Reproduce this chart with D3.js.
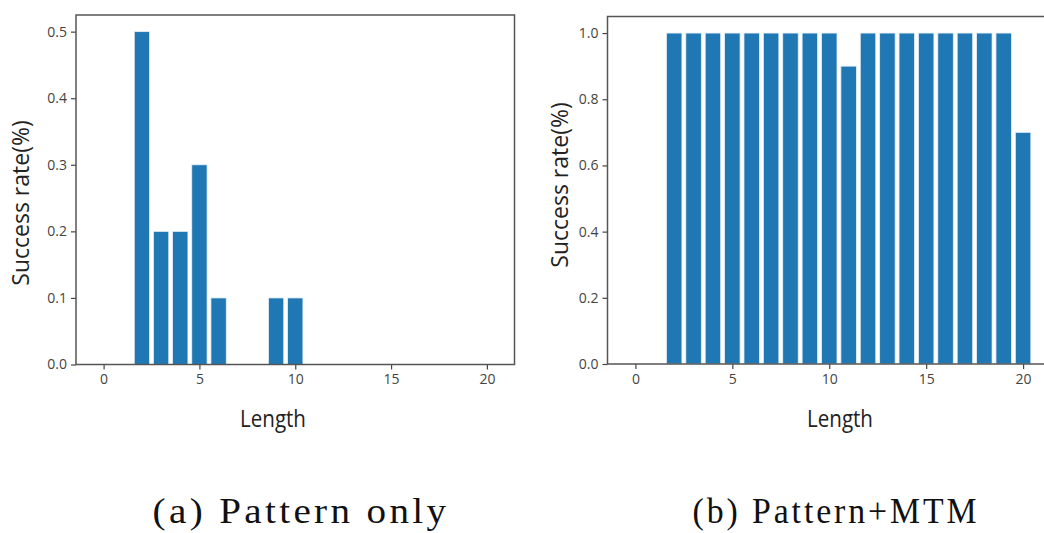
<!DOCTYPE html>
<html>
<head>
<meta charset="utf-8">
<script src="https://cdn.jsdelivr.net/npm/d3@7"></script>
<style>
  body { margin: 0; background: #fff; overflow: hidden; }
  svg { display: block; }
</style>
</head>
<body>
<svg id="chart" width="1044" height="533"></svg>
<script>
// lengths on the x axis
var lengths = [0, 1, 2, 3, 4, 5, 6, 7, 8, 9, 10, 11, 12, 13, 14, 15, 16, 17, 18, 19, 20];

// (a) pattern only
var rateA = [0, 0, 0.5, 0.2, 0.2, 0.3, 0.1, 0, 0, 0.1, 0.1, 0, 0, 0, 0, 0, 0, 0, 0, 0, 0];
// (b) pattern + MTM
var rateB = [0, 0, 1, 1, 1, 1, 1, 1, 1, 1, 1, 0.9, 1, 1, 1, 1, 1, 1, 1, 1, 0.7];

var xTicks = [0, 5, 10, 15, 20];
var yTicksA = [0, 0.1, 0.2, 0.3, 0.4, 0.5];
var yTicksB = [0, 0.2, 0.4, 0.6, 0.8, 1.0];

var captions = ["(a) Pattern only", "(b) Pattern+MTM"];

var svg = d3.select("#chart");

// squeeze a text horizontally so it fits a given width (the source image is squashed)
function squeeze(sel, cx, cy, w) {
  var len = sel.node().getComputedTextLength();
  sel.attr("x", 0).attr("y", 0)
    .attr("transform", "translate(" + cx + "," + cy + ") scale(" + (w / len) + ",1)");
}

function drawPanel(box, values, yTicks, yMax, caption) {
  var x = d3.scaleLinear().domain([-1.44, 21.44]).range([box.left, box.right]);
  var y = d3.scaleLinear().domain([0, yMax]).range([box.bottom, box.top]);
  var g = svg.append("g");

  // bars, width 0.8 like matplotlib
  g.selectAll("rect.bar")
    .data(lengths)
    .enter().append("rect")
    .attr("class", "bar")
    .attr("x", function(d) { return x(d - 0.4); })
    .attr("width", function(d) { return x(d + 0.4) - x(d - 0.4); })
    .attr("y", function(d, i) { return y(values[i]); })
    .attr("height", function(d, i) { return y(0) - y(values[i]); })
    .style("fill", "#1f77b4")
    .style("stroke", "#e8f0f8")
    .style("stroke-width", 0.8);

  var xAxis = g.append("g")
    .attr("transform", "translate(0," + box.bottom + ")")
    .call(d3.axisBottom(x).tickValues(xTicks).tickSize(5).tickPadding(5).tickFormat(d3.format("d")));
  var yAxis = g.append("g")
    .attr("transform", "translate(" + box.left + ",0)")
    .call(d3.axisLeft(y).tickValues(yTicks).tickSize(5).tickPadding(4).tickFormat(d3.format(".1f")));

  [xAxis, yAxis].forEach(function(a) {
    a.select(".domain").remove();
    a.selectAll(".tick line").style("stroke", "#444").style("stroke-width", 1.2);
    a.selectAll(".tick text")
      .style("font-family", "'Open Sans', sans-serif")
      .style("font-size", "14px")
      .style("fill", "#444");
  });

  // frame
  g.append("rect")
    .attr("x", box.left).attr("y", box.top)
    .attr("width", box.right - box.left).attr("height", box.bottom - box.top)
    .style("fill", "none").style("stroke", "#555").style("stroke-width", 1.5);

  g.append("text")
    .attr("transform", "translate(" + box.ylabX + "," + box.ylabY + ") rotate(-90)")
    .attr("text-anchor", "middle")
    .style("font-family", "'Open Sans', sans-serif")
    .style("font-size", "23px")
    .style("fill", "#222")
    .text("Success rate(%)");

  var xl = g.append("text")
    .attr("text-anchor", "middle")
    .style("font-family", "'Open Sans', sans-serif")
    .style("font-size", "23px")
    .style("fill", "#222")
    .text("Length");
  squeeze(xl, box.xlabX, 427, 66);

  // caption: tall narrow serif with wide, even spacing
  var cap = g.append("text")
    .attr("text-anchor", "middle")
    .style("font-family", "'Liberation Serif', serif")
    .style("font-size", "35px")
    .style("letter-spacing", "3px")
    .style("fill", "#111")
    .text(caption);
  squeeze(cap, box.capX, 523, box.capW);
}

drawPanel({left: 76, right: 514.5, top: 15, bottom: 364.5, ylabX: 29, ylabY: 203, xlabX: 273, capX: 301, capW: 297},
  rateA, yTicksA, 0.525, captions[0]);
drawPanel({left: 607.5, right: 1051, top: 16.5, bottom: 364, ylabX: 568, ylabY: 185, xlabX: 840, capX: 836, capW: 287},
  rateB, yTicksB, 1.05, captions[1]);
</script>
</body>
</html>
